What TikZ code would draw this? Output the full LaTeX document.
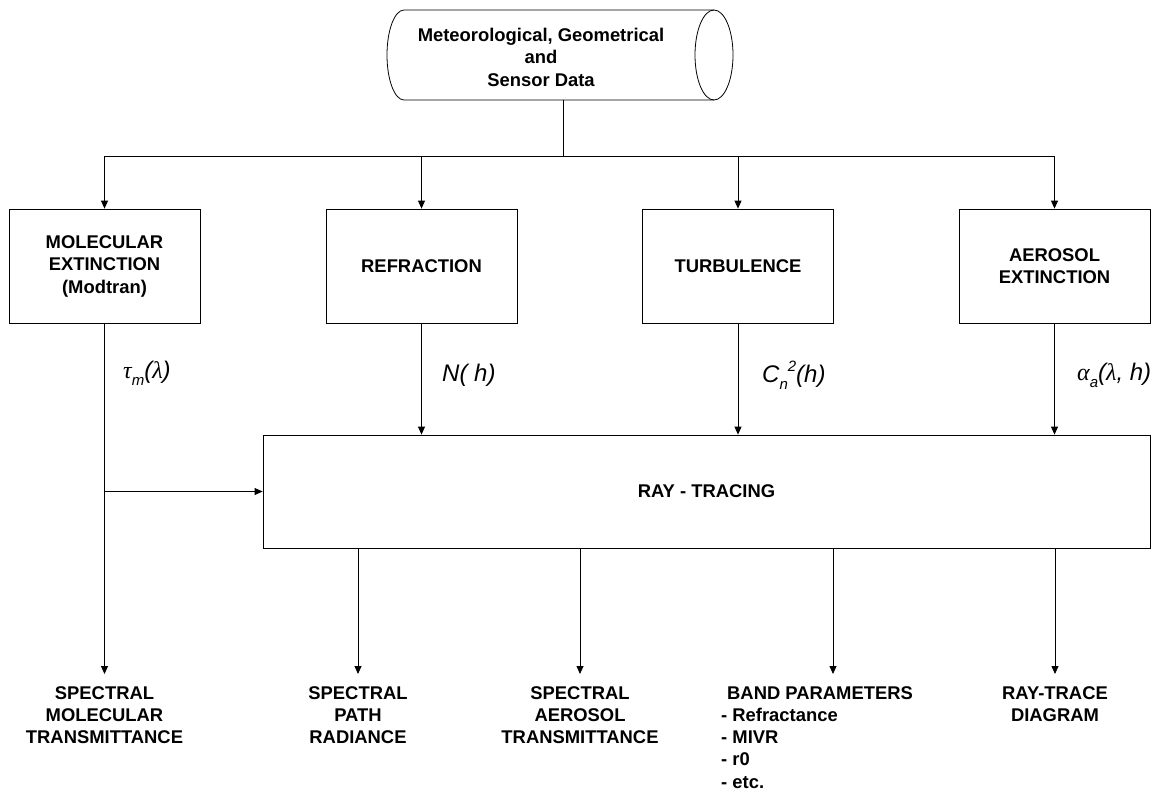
\documentclass[tikz,border=0pt]{standalone}
\usepackage{fontspec}
\setmainfont{Liberation Sans}
\newfontfamily\grk{Liberation Serif}
\usetikzlibrary{arrows.meta}
\newcommand\boxfont{\bfseries\fontsize{18.4}{22.5}\selectfont}
\newcommand\outfont{\bfseries\fontsize{18.4}{22.3}\selectfont}
\newcommand\lblfont{\itshape\fontsize{24}{28}\selectfont}
\newcommand\lowr[1]{\raisebox{-0.3em}{\fontsize{15}{15}\selectfont #1}}
\newcommand\upr[1]{\raisebox{0.45em}{\fontsize{15}{15}\selectfont #1}}
\newcommand\gk[1]{{\grk\itshape #1}}
\tikzset{
  ln/.style={line width=0.8pt},
  box/.style={draw, line width=0.8pt, minimum width=191pt, minimum height=114pt, align=center, font=\boxfont, inner sep=0pt},
  arr/.style={line width=0.8pt, -{Triangle[length=8pt,width=7pt]}},
  arrout/.style={arr, shorten >=12pt},
  lbl/.style={anchor=west, font=\lblfont, inner sep=0pt},
  outtxt/.style={anchor=north, align=center, font=\outfont, inner sep=0pt}
}
\begin{document}
\begin{tikzpicture}[x=1pt,y=-1pt]
\useasboundingbox (0,0) rectangle (1167,792);
% source cylinder
\draw[ln] (714,10) -- (404,10) arc[start angle=90,end angle=270,x radius=17pt,y radius=45pt] -- (714,100);
\draw[ln] (714,55) ellipse [x radius=19pt, y radius=45pt];
\node[align=center, font=\boxfont, inner sep=0pt] (src) at (541,57) {Meteorological, Geometrical\\and\\Sensor Data};
\coordinate (stem) at (563,100);
\coordinate (bus) at (563,156);
% boxes
\node[box] (mol) at (104.5,266) {MOLECULAR\\EXTINCTION\\(Modtran)};
\node[box] (refr) at (421.5,266) {REFRACTION};
\node[box] (turb) at (738,266) {TURBULENCE};
\node[box] (aero) at (1054.5,266) {AEROSOL\\EXTINCTION};
\node[box, minimum width=887pt, minimum height=113pt] (ray) at (706.5,491.5) {RAY - TRACING};
% top connectors
\draw[ln] (stem) -- (bus);
\draw[arr] (bus) -| (mol.north);
\draw[arr] (bus) -| (refr.north);
\draw[arr] (bus) -| (turb.north);
\draw[arr] (bus) -| (aero.north);
% into ray tracing
\draw[arr] (refr.south) -- (refr.south |- ray.north);
\draw[arr] (turb.south) -- (turb.south |- ray.north);
\draw[arr] (aero.south) -- (aero.south |- ray.north);
\draw[arr] (mol.south |- ray.west) -- (ray.west);
% labels
\node[lbl] (l1) at (123,373) {\gk{τ}\lowr{m}(\gk{λ})};
\node[lbl] (l2) at (442,375) {N( h)};
\node[lbl] (l3) at (762,375) {C\lowr{n}\upr{2}(h)};
\node[lbl] (l4) at (1077,375) {\gk{α}\lowr{a}(\gk{λ}, h)};
% outputs
\node[outtxt] (o1) at (104.5,686) {SPECTRAL\\MOLECULAR\\TRANSMITTANCE};
\node[outtxt] (o2) at (358,686) {SPECTRAL\\PATH\\RADIANCE};
\node[outtxt] (o3) at (580,686) {SPECTRAL\\AEROSOL\\TRANSMITTANCE};
\node[outtxt, anchor=north west, align=left] (o4) at (721,686) {\hspace*{6pt}BAND PARAMETERS\\- Refractance\\- MIVR\\- r0\\- etc.};
\node[outtxt] (o5) at (1055,686) {RAY-TRACE\\DIAGRAM};
\coordinate (t4) at (833,674);
\draw[arrout] (mol.south) -- (o1.north);
\draw[arrout] (o2.north |- ray.south) -- (o2.north);
\draw[arrout] (o3.north |- ray.south) -- (o3.north);
\draw[arr] (t4 |- ray.south) -- (t4);
\draw[arrout] (o5.north |- ray.south) -- (o5.north);
\end{tikzpicture}
\end{document}
